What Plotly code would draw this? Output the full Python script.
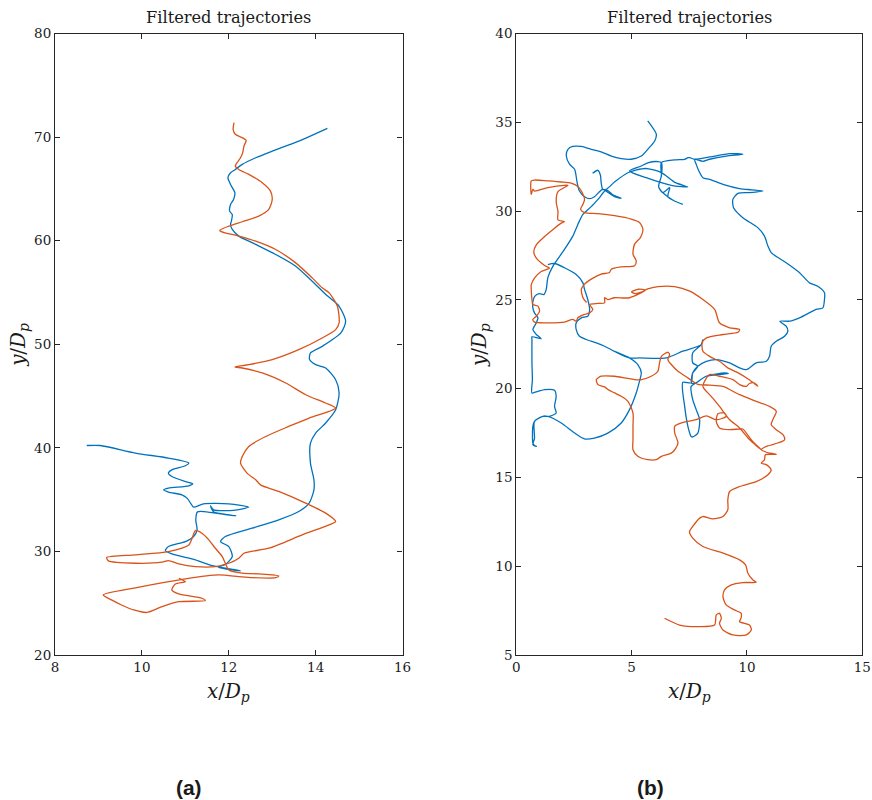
import plotly.graph_objects as go

# ---------------- panel (a) ----------------
a_blue_x = [8.73, 9.04, 9.85, 10.61, 11.08, 11.0, 10.69, 10.61, 10.69, 11.0, 11.17, 11.08, 10.61, 10.50, 10.61,
            10.92, 11.04, 11.12, 11.19, 11.42, 12.0, 12.46, 12.11, 11.65, 11.58, 11.65, 12.16, 11.65, 11.28,
            11.24, 11.27, 11.19, 11.0, 10.61, 10.54, 10.69, 11.23, 11.65, 12.2, 12.27, 11.92, 11.75, 11.92,
            12.08, 12.0, 11.81, 11.92, 12.54, 13.15, 13.61, 13.85, 13.96, 13.96, 13.88, 13.88, 14.0, 14.23,
            14.46, 14.54, 14.46, 14.23, 14.0, 13.86, 13.88, 14.15, 14.58, 14.69, 14.54, 14.26, 13.92, 13.54,
            13.08, 12.62, 12.23, 12.08, 12.04, 12.06, 12.08, 12.02, 12.04, 12.11, 12.14, 12.04, 11.98, 12.04,
            12.15, 12.31, 12.62, 13.0, 13.61, 14.27]
a_blue_y = [40.23, 40.23, 39.50, 39.01, 38.53, 38.27, 37.88, 37.56, 37.24, 36.75, 36.53, 36.34, 36.11, 35.95, 35.73,
            35.47, 35.15, 34.66, 34.28, 34.60, 34.60, 34.28, 33.97, 34.02, 34.40, 33.82, 33.44, 33.73, 33.82,
            33.05, 32.08, 31.44, 30.95, 30.47, 30.08, 29.76, 29.18, 28.60, 28.2, 28.12, 28.31, 28.5, 28.75,
            29.50, 30.47, 30.95, 31.44, 32.25, 33.05, 33.85, 34.66, 35.95, 36.92, 38.53, 40.46, 41.43, 42.40,
            43.68, 45.30, 46.58, 47.71, 48.03, 48.52, 49.16, 49.80, 51.10, 52.22, 53.67, 54.70, 56.09, 57.54,
            58.67, 59.64, 60.44, 61.09, 61.57, 61.89, 62.53, 62.85, 63.5, 63.98, 64.63, 65.43, 66.08, 66.56,
            66.88, 67.37, 68.01, 68.65, 69.62, 70.85]

a_orange_x = [12.12, 12.10, 12.15, 12.31, 12.40, 12.35, 12.32, 12.27, 12.19, 12.15, 12.23, 12.46, 12.77, 12.96,
              13.0, 12.92, 12.69, 12.31, 12.0, 11.79, 11.84, 12.23, 12.62, 13.08, 13.54, 13.92, 14.15, 14.31,
              14.50, 14.54, 14.46, 14.15, 13.61, 13.0, 12.46, 12.14, 12.31, 12.77, 13.31, 13.77, 14.23, 14.46,
              14.31, 13.85, 13.38, 12.85, 12.46, 12.31, 12.27, 12.42, 12.62, 12.73, 13.15, 13.77, 14.23, 14.46,
              14.31, 13.69, 12.92, 12.35, 12.23, 12.0, 11.69, 11.23, 10.85, 10.61, 10.46, 9.85, 9.23, 9.19,
              9.85, 10.61, 11.08, 11.17, 11.23, 11.38, 11.54, 11.69, 11.85, 11.92, 12.0, 12.31, 12.69, 13.15,
              13.08, 12.54, 12.23, 11.77, 11.0, 9.85, 9.11, 9.30, 9.53, 9.81, 10.11, 10.46, 10.85, 11.46,
              11.38, 10.85, 10.69, 10.77, 11.0, 10.85]
a_orange_y = [71.40, 70.75, 70.27, 69.95, 69.69, 69.14, 68.50, 68.01, 67.53, 67.20, 66.88, 66.40, 65.60, 64.79,
              63.98, 63.02, 62.37, 61.83, 61.40, 60.99, 60.86, 60.44, 59.95, 59.15, 57.86, 56.41, 55.45, 54.96,
              53.67, 52.06, 51.42, 50.61, 49.48, 48.52, 48.03, 47.81, 47.71, 47.23, 46.26, 45.13, 44.33, 43.85,
              43.52, 42.88, 42.07, 41.10, 40.14, 39.17, 38.53, 37.56, 36.92, 36.43, 35.79, 34.66, 33.70, 32.89,
              32.57, 31.60, 30.31, 29.83, 29.35, 28.86, 28.54, 28.54, 28.80, 29.12, 28.96, 28.86, 29.09, 29.41,
              29.67, 29.99, 30.63, 31.44, 32.02, 31.76, 31.12, 30.31, 29.50, 28.86, 28.22, 27.90, 27.83, 27.64,
              27.47, 27.47, 27.57, 27.73, 27.35, 26.48, 25.80, 25.32, 24.83, 24.35, 24.11, 24.67, 25.15, 25.25,
              25.48, 25.90, 26.28, 26.86, 27.09, 27.41]

# ---------------- panel (b) ----------------
b_blue_x = [5.70, 6.07, 6.0, 5.70, 5.42, 4.98, 4.55, 4.12, 3.68, 3.25, 2.82, 2.45, 2.24, 2.17, 2.31, 2.53, 2.64,
            2.74, 2.96, 3.18, 3.39, 3.57, 3.75, 4.0, 4.26, 4.55, 4.2, 3.90,
            3.61, 3.25, 2.89, 2.67, 2.45, 2.09, 1.59, 1.37, 1.30,
            1.2, 1.0, 0.8, 0.72, 0.72, 0.79, 0.94, 0.87, 0.72, 0.87, 1.08, 0.68, 0.68, 0.68, 0.70, 0.68, 0.94,
            1.23, 1.66, 1.73, 1.66, 1.73, 1.44, 1.15, 0.79, 0.72, 0.72, 0.79, 0.87, 0.72, 0.79, 0.79, 1.15, 1.37,
            1.95, 2.53, 2.96, 3.39, 3.97, 4.55, 4.91, 5.20, 5.34, 5.42, 5.27, 4.91,
            4.26, 3.83, 3.47, 3.03, 2.74, 2.60, 2.60, 2.82, 3.10, 3.18, 3.10, 2.96, 2.89, 2.60, 2.09, 1.66, 1.37,
            1.66, 2.09, 2.60, 2.89, 2.96, 3.10, 3.18, 3.10, 2.82, 2.60, 2.60, 2.74, 3.03, 3.47, 3.83, 4.26, 4.91,
            5.35, 6.50, 7.22, 8.02, 8.09, 8.02, 7.65, 7.65, 7.87, 7.65, 7.58, 7.22, 7.30, 7.44, 7.58, 7.65, 7.87,
            7.95, 7.80, 7.65, 7.58, 7.80, 8.23, 9.03, 9.2, 8.23, 7.80, 7.60, 7.65, 7.87, 8.24, 8.67, 9.25, 9.68,
            9.97, 10.40, 10.84, 10.98, 11.05, 11.27, 11.63, 11.77, 11.70, 11.42, 11.85, 12.28, 13.0, 13.29, 13.36,
            13.36, 13.07, 12.71, 12.28, 11.70, 11.05, 10.91, 10.76, 10.47, 9.82, 9.42, 9.39, 9.61, 10.11, 10.69,
            10.2, 9.68, 8.96, 8.38, 8.09, 7.90, 7.80, 7.73, 8.09, 8.38, 9.10, 9.82, 9.25, 8.4, 7.73, 7.52, 7.44,
            7.30, 6.86, 6.29, 6.29, 6.17, 6.35, 6.65, 6.57, 6.86, 7.22, 6.86, 6.57, 6.35, 6.17, 6.29, 6.29, 6.14,
            5.70, 5.42, 4.91, 5.63, 6.72, 7.44, 6.9, 6.29, 5.6, 4.84, 4.26, 3.90, 3.75, 3.68, 3.65, 3.54, 3.31]
b_blue_y = [35.08, 34.33, 33.95, 33.48, 33.10, 32.92, 32.96, 33.10, 33.33, 33.48, 33.64, 33.64, 33.48, 33.10,
            32.64, 32.36, 31.60, 31.13, 30.81, 30.70, 30.81, 31.04, 31.23, 31.03, 30.81, 30.72, 30.9, 31.2,
            30.76, 30.25, 29.82, 29.25, 28.59, 27.84, 26.90, 26.25, 25.59,
            25.3, 25.35, 25.2, 24.9, 24.55, 24.27, 23.99, 23.71, 23.33, 23.05, 22.81, 22.92, 22.77, 21.5, 20.5,
            19.76, 19.85, 19.95, 19.91, 19.57, 19.0, 18.63, 18.44, 18.44, 18.16, 17.88, 16.94, 16.80, 16.75,
            16.84, 17.2, 18.16, 18.44, 18.44,
            18.07, 17.50, 17.17, 17.22, 17.50, 18.07, 18.82, 19.76, 20.41, 20.89, 21.36, 21.73,
            22.1, 22.39, 22.58, 22.77, 22.95, 23.33, 23.71, 23.99, 24.08, 24.46, 25.02, 25.59, 25.96, 26.43,
            26.81, 27.05, 26.99,
            27.05, 26.81, 26.43, 25.96, 25.59, 25.02, 24.46, 24.08, 23.99, 23.71, 23.33, 22.95, 22.77, 22.58,
            22.39, 22.1, 21.73,
            21.73, 21.73, 22.11, 22.48, 22.77, 22.48, 22.02, 21.45, 21.26, 20.89, 20.33, 20.36, 19.0, 17.88,
            17.31, 17.28, 17.50, 18.25, 18.82, 19.38, 20.13, 20.33, 20.70, 20.89, 20.85, 20.70, 20.33, 20.3,
            20.89, 21.26, 21.54, 21.64, 21.45, 21.17, 21.07, 21.45, 21.54, 21.82, 22.39, 22.67, 22.95, 23.23,
            23.52, 23.80, 23.80, 23.99, 24.46, 24.55, 25.02, 25.40, 25.77, 25.96, 26.53, 27.09, 27.66, 28.03,
            28.59, 29.07, 29.63, 30.19, 30.66, 31.0, 31.04, 31.13,
            31.2, 31.27, 31.51, 31.79, 31.88, 32.3, 32.64, 32.92, 32.8, 32.92, 33.10, 33.20, 33.24, 33.05, 32.92,
            33.01, 33.01, 32.92, 32.88, 32.73, 31.98, 31.38, 31.04, 31.32, 30.81, 30.57, 30.38, 30.57, 30.81,
            31.04, 31.38, 31.98, 32.73, 32.79, 32.72, 32.54, 32.26, 31.88, 31.45, 31.36, 31.6, 32.17, 32.4,
            32.16, 31.64, 31.23, 31.23, 31.6, 32.02, 32.30, 32.13]

b_orange_x = [6.43, 7.08, 7.95, 8.60, 8.67, 8.81, 8.89, 8.81, 8.96, 9.39, 9.97, 10.19, 10.11, 9.68, 9.75, 9.75,
              9.46, 9.10, 8.96, 9.03, 9.32, 9.82, 10.40, 10.26, 10.04, 9.94, 9.68, 8.96, 8.09, 7.65, 7.51, 7.65,
              7.95, 8.09, 8.52, 8.96, 9.17, 9.17, 9.25, 9.68, 10.40, 10.91, 11.05, 10.84, 10.62, 10.76, 10.80,
              11.27, 10.85, 10.62,
              10.84, 11.34, 11.63, 11.56, 11.27, 11.05, 11.12, 11.27, 10.98, 10.40, 9.68, 8.96, 8.38,
              7.88, 7.44, 7.01, 6.72, 6.57, 6.65, 6.57, 6.29, 6.21, 6.14, 5.85, 5.42, 5.13, 4.70, 4.26, 3.68, 3.47,
              3.54, 3.83, 3.97, 4.26, 4.55, 4.84, 5.06, 5.06, 5.06, 5.06, 5.27, 5.70, 6.07, 6.29, 6.72, 6.87, 7.01,
              6.87, 6.87, 7.16, 7.80, 8.24, 8.67, 9.10, 9.03, 8.74, 8.67, 8.81, 9.25, 9.68, 9.82, 10.2, 10.62,
              10.11, 9.68, 9.25, 8.81, 8.45, 8.09, 8.38, 8.81, 9.39, 9.68, 9.97, 10.11, 10.33, 10.47, 10.1, 9.6,
              9.17, 8.81, 8.38, 8.09, 8.06, 8.24, 8.96, 9.61, 9.68, 9.25, 8.81, 8.60, 8.09, 7.52, 6.86, 6.14, 5.70,
              5.45, 5.15, 5.0, 5.3, 5.6, 4.91, 4.26, 3.97, 3.83, 3.83, 3.54, 3.18, 3.32, 3.18, 2.96, 2.67, 2.60,
              2.45, 2.09, 1.37, 0.79, 0.72, 0.87, 1.01, 0.94, 0.72, 0.68, 0.65, 0.65, 0.79, 1.08, 1.44, 1.23, 0.87,
              0.76, 0.87, 1.23, 1.66, 1.95, 2.09, 1.81, 1.81, 1.73, 1.81, 2.24, 2.09, 1.37, 0.79, 0.72, 0.65,
              0.65, 0.79, 1.37, 1.95, 2.38, 2.67, 2.82, 2.96, 2.89, 2.79, 2.96, 3.54, 4.26, 4.98, 5.34, 5.49, 5.39,
              5.13, 5.06, 5.20, 5.13, 4.55, 4.12, 4.04, 3.68, 3.25, 2.96, 2.82, 2.9, 3.05]
b_orange_y = [7.07, 6.69, 6.60, 6.69, 7.26, 7.35, 7.07, 6.79, 6.41, 6.13, 6.13, 6.41, 6.69, 6.88, 7.1, 7.35,
              7.54, 7.82, 8.29, 8.67, 8.95, 9.08, 9.10, 9.23, 9.61, 10.08, 10.36, 10.74, 11.11, 11.58, 11.95,
              12.24, 12.71, 12.80, 12.67, 12.80, 13.18, 13.74, 14.21, 14.49, 14.77, 15.15, 15.43, 15.72, 15.81,
              16.0, 16.28, 16.3, 16.42, 16.56,
              16.75, 16.94, 17.13, 17.41, 17.69, 17.97, 18.25, 18.72, 19.0, 19.29, 19.66, 20.13, 20.2,
              20.24, 20.61, 20.98, 21.36, 21.64, 21.92, 22.05, 21.82, 21.45, 20.98, 20.70, 20.51, 20.51, 20.61,
              20.70, 20.70, 20.51, 20.23, 20.10, 19.95, 19.76, 19.57, 19.29, 18.63, 17.88, 17.13, 16.56, 16.19,
              16.0, 16.0, 16.19, 16.37, 16.56, 16.94, 17.50, 17.88, 18.07, 18.25, 18.47, 18.25, 18.44, 18.63,
              18.59, 18.16, 17.79, 17.69, 17.73, 17.73, 17.1, 16.56,
              17.13, 17.79, 18.25, 19.0, 19.57, 20.13, 20.79, 20.70, 20.51, 20.23, 20.13, 20.29, 20.32, 20.13,
              20.5, 20.9, 21.17, 21.54, 21.82, 22.11, 22.58, 22.86, 23.05, 23.18, 23.33, 23.43, 23.71, 24.46,
              25.02, 25.49, 25.75, 25.75, 25.62, 25.45, 25.35, 25.45, 25.6, 25.55, 25.12, 25.12, 25.02, 25.12,
              24.83, 24.80, 24.74, 24.46, 24.27, 24.18, 23.99, 23.80, 23.90, 23.75, 23.71, 23.75, 23.90, 24.08,
              24.36, 24.65, 24.74, 25.02, 25.59, 25.85, 26.22, 26.60, 26.79, 26.94, 27.35, 27.72, 28.10, 28.57,
              29.04, 29.32, 29.41, 29.51, 29.98, 30.54, 31.10, 31.45, 31.45, 31.32, 31.13, 31.23, 30.94, 31.70,
              31.75, 31.70, 31.64, 31.57, 31.39, 31.13, 30.66, 30.38, 30.10, 29.92, 29.86, 29.74, 29.55, 29.36,
              28.99, 28.52, 28.14, 27.58, 27.20, 26.92, 26.86, 26.73, 26.54, 26.45, 26.17, 25.89, 25.59, 25.1,
              24.85]

BLUE = "#0072BD"
ORANGE = "#D95319"
AXIS = "#262626"
SERIF = "DejaVu Serif, serif"
SANS = "Liberation Sans, Arial, sans-serif"

fig = go.Figure()


def trace(x, y, color, xa, ya):
    return go.Scatter(x=x, y=y, mode="lines", xaxis=xa, yaxis=ya, showlegend=False, hoverinfo="skip",
                      line=dict(color=color, width=1.3, shape="spline", smoothing=0.7))


fig.add_trace(trace(a_blue_x, a_blue_y, BLUE, "x", "y"))
fig.add_trace(trace(a_orange_x, a_orange_y, ORANGE, "x", "y"))
fig.add_trace(trace(b_blue_x, b_blue_y, BLUE, "x2", "y2"))
fig.add_trace(trace(b_orange_x, b_orange_y, ORANGE, "x2", "y2"))

# Page placement: the displayed page is inset from the corner and reduced
# slightly, so layout positions are expressed in displayed pixels.
W, H = 872, 800
SX, OX = 0.9825, 5.8
SY, OY = 0.98, 7.8


def px_x(p):
    return min(1.0, (p - OX) / SX / W)


def px_y(p):
    return 1 - (p - OY) / SY / H


def fs(size):
    return size / SY


y_dom = [px_y(655), px_y(34.3)]
axis_common = dict(showgrid=False, zeroline=False, showline=True, linecolor=AXIS, linewidth=1.2,
                   mirror="ticks", ticks="inside", ticklen=5, tickcolor=AXIS, tickwidth=1.2,
                   tickfont=dict(family=SERIF, size=fs(13.2), color="#1a1a1a"))

fig.update_layout(
    width=W, height=H, margin=dict(l=0, r=0, t=0, b=0),
    paper_bgcolor="white", plot_bgcolor="white",
    xaxis=dict(domain=[px_x(56.7), px_x(403.3)], range=[8, 16], tickvals=[8, 10, 12, 14, 16], anchor="y",
               **axis_common),
    yaxis=dict(domain=y_dom, range=[20, 80], tickvals=[20, 30, 40, 50, 60, 70, 80], anchor="x",
               **axis_common),
    xaxis2=dict(domain=[px_x(516.7), min(0.9992, px_x(862.7))], range=[0, 15], tickvals=[0, 5, 10, 15],
                anchor="y2", **axis_common),
    yaxis2=dict(domain=y_dom, range=[5, 40], tickvals=[5, 10, 15, 20, 25, 30, 35, 40], anchor="x2",
                **axis_common),
)


def note(text, px, py, size, family=SERIF, angle=0):
    return dict(text=text, x=px_x(px), y=px_y(py), xref="paper", yref="paper", showarrow=False,
                xanchor="center", yanchor="middle", textangle=angle,
                font=dict(family=family, size=fs(size), color="#1a1a1a"))


ann = []
for cx in (230, 689.7):
    ann.append(note("Filtered trajectories", cx, 18, 15.9))
    ann.append(note("<i>x</i>/<i>D<sub>p</sub></i>", cx, 692, 19.5))
for lx in (21, 481):
    ann.append(note("<i>y</i>/<i>D<sub>p</sub></i>", lx, 345, 19.5, angle=-90))
ann.append(note("<b>(a)</b>", 190, 787, 20.5, family=SANS))
ann.append(note("<b>(b)</b>", 651, 787, 20.5, family=SANS))
fig.update_layout(annotations=ann)

fig.write_html("out.html")
